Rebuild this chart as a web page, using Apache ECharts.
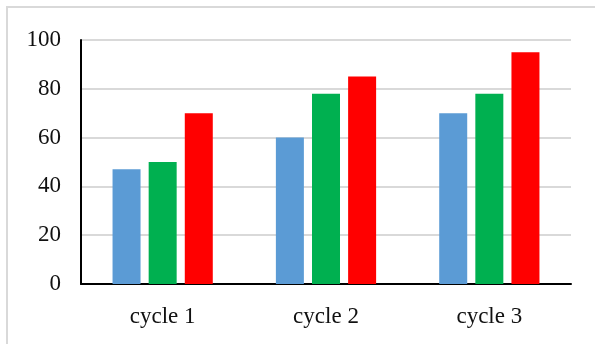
<!DOCTYPE html>
<html>
<head>
<meta charset="utf-8">
<script src="https://cdn.jsdelivr.net/npm/echarts@6/dist/echarts.min.js"></script>
<style>
  html, body { margin: 0; padding: 0; background: #fff; }
  #chart { width: 595px; height: 344px; }
</style>
</head>
<body>
<div id="chart"></div>
<script>
const categories = ['cycle 1', 'cycle 2', 'cycle 3'];
const seriesA = [47, 60, 70];
const seriesB = [50, 78, 78];
const seriesC = [70, 85, 95];
const colors = ['#5B9BD5', '#00B050', '#FF0000'];

const chart = echarts.init(document.getElementById('chart'));
const labelFont = { fontFamily: '"Liberation Serif", "Times New Roman", serif', fontSize: 23, color: '#111' };

function bar(data, color) {
  return {
    type: 'bar',
    data: data,
    barWidth: 28,
    barGap: '29%',
    itemStyle: { color: color },
  };
}

const option = {
  animation: false,
  graphic: [{
    type: 'rect',
    shape: { x: 7, y: 7, width: 640, height: 400 },
    style: { fill: 'none', stroke: '#d9d9d9', lineWidth: 2 },
    silent: true,
  }],
  grid: { left: 81, right: 24, top: 40, bottom: 60 },
  xAxis: {
    type: 'category',
    data: categories,
    axisTick: { show: false },
    axisLine: { lineStyle: { color: '#000', width: 2 } },
    axisLabel: Object.assign({ margin: 21 }, labelFont),
  },
  yAxis: {
    type: 'value',
    min: 0,
    max: 100,
    interval: 20,
    axisLine: { show: true, lineStyle: { color: '#000', width: 2 } },
    axisTick: { show: false },
    axisLabel: Object.assign({ margin: 20 }, labelFont),
    splitLine: { lineStyle: { color: '#d9d9d9', width: 2 } },
  },
  series: [
    bar(seriesA, colors[0]),
    bar(seriesB, colors[1]),
    bar(seriesC, colors[2]),
  ],
};
chart.setOption(option);
</script>
</body>
</html>
